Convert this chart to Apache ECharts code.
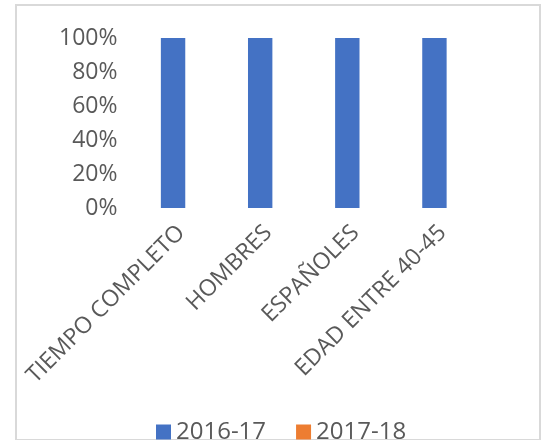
<!DOCTYPE html>
<html>
<head>
<meta charset="utf-8">
<script src="https://cdn.jsdelivr.net/npm/echarts@6/dist/echarts.min.js"></script>
<style>
html,body{margin:0;padding:0;background:#fff;}
#c{width:541px;height:440px;}
</style>
</head>
<body>
<div id="c"></div>
<script>
const categories = ['TIEMPO COMPLETO', 'HOMBRES', 'ESPAÑOLES', 'EDAD ENTRE 40-45'];
const seriesNames = ['2016-17', '2017-18'];
const values2016_17 = [100, 100, 100, 100];
const values2017_18 = [0, 0, 0, 0];
const yTicks = [0, 20, 40, 60, 80, 100];

const chart = echarts.init(document.getElementById('c'), null, {renderer: 'canvas'});
const font = '"Open Sans", sans-serif';
const txt = '#595959';
chart.setOption({
  animation: false,
  color: ['#4472C4', '#ED7D31'],
  grid: [
    {left: 129.5, right: 63, top: 38, bottom: 232},
    {left: 16, right: 1, top: 5, bottom: -30, show: true, borderColor: '#d9d9d9', borderWidth: 2, backgroundColor: 'rgba(0,0,0,0)', z: 0}
  ],
  legend: {
    data: seriesNames, left: 151, top: 415, itemWidth: 15, itemHeight: 15, itemGap: 30,
    icon: 'rect',
    textStyle: {fontFamily: font, fontSize: 24, color: txt}
  },
  xAxis: [{
    type: 'category', data: categories,
    axisLine: {show: false}, axisTick: {show: false},
    axisLabel: {rotate: 45, interval: 0, margin: 13, verticalAlign: 'top', fontFamily: font, fontSize: 23, color: txt}
  }, {gridIndex: 1, type: 'value', show: false, splitLine: {show: false}}],
  yAxis: [{
    type: 'value', min: yTicks[0], max: yTicks[yTicks.length - 1], interval: 20,
    splitLine: {show: false}, axisLine: {show: false}, axisTick: {show: false},
    axisLabel: {margin: 12, fontFamily: font, fontSize: 23, color: txt, formatter: '{value}%'}
  }, {gridIndex: 1, type: 'value', show: false, splitLine: {show: false}}],
  series: [
    {name: seriesNames[0], type: 'bar', stack: 's', data: values2016_17, barWidth: '28%'},
    {name: seriesNames[1], type: 'bar', stack: 's', data: values2017_18, barWidth: '28%'}
  ]
});
</script>
</body>
</html>
